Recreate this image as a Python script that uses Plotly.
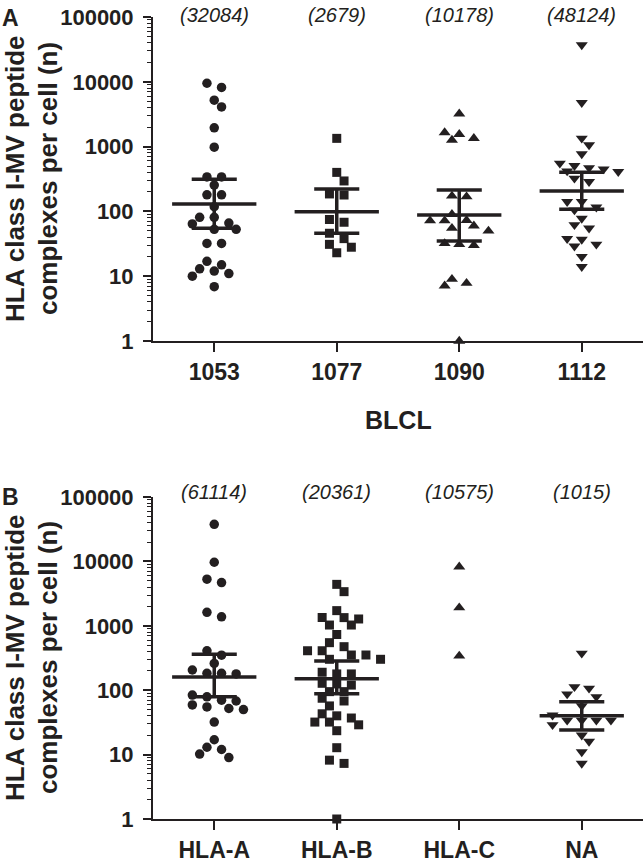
import numpy as np
import plotly.graph_objects as go

# ---------------- data ----------------
panelA_categories = ["1053", "1077", "1090", "1112"]
panelA_counts = ["(32084)", "(2679)", "(10178)", "(48124)"]
a_1053 = [9500, 8200, 5200, 4100, 1950, 980, 340, 340, 255, 180, 180, 118, 81, 81,
          66, 64, 53, 53, 32, 32, 17, 15, 13, 12, 11, 10, 6.9]
a_1077 = [1340, 400, 295, 186, 179, 75, 68, 46, 38, 31, 28, 23]
a_1090 = [3200, 1650, 1550, 1340, 1260, 173, 169, 90, 73, 72, 72, 60, 55, 50,
          32, 31, 30, 9.0, 7.8, 7.1, 1.0]
a_1112 = [37000, 4760, 1340, 1060, 770, 552, 507, 470, 450, 420, 410, 324, 287,
          141, 141, 116, 105, 78, 62, 55, 38, 37, 31, 29, 20, 14]
panelA_median = [130, 99, 88, 206]
panelA_low = [55, 46, 35, 108]
panelA_high = [313, 222, 214, 401]

panelB_categories = ["HLA-A", "HLA-B", "HLA-C", "NA"]
panelB_counts = ["(61114)", "(20361)", "(10575)", "(1015)"]
b_hlaa = [37700, 9700, 5300, 4700, 1620, 1380, 410, 350, 260, 206, 183, 183, 179,
          84, 79, 70, 68, 59, 55, 52, 50, 32, 17, 13, 12, 10.2, 9.0]
b_hlab = [4400, 3390, 1720, 1346, 1340, 1276, 1028, 1028, 733, 547, 474, 410, 410,
          352, 352, 302, 302, 190, 179, 179, 128, 125, 120, 95, 95, 75, 68, 57,
          43, 40, 37, 32, 32, 29, 23.5, 12.8, 8.2, 7.3, 1.0]
b_hlac = [8260, 1910, 340]
b_na = [374, 113, 107, 87, 79, 57, 41, 34, 34, 34, 34, 29, 20, 16, 11, 7.3]
panelB_median = [160, 150, None, 40]
panelB_low = [79, 88, None, 24]
panelB_high = [361, 285, None, 66]

y_tickvals = [1, 10, 100, 1000, 10000, 100000]
y_ticktext = ["1", "10", "100", "1000", "10000", "100000"]

# ---------------- layout geometry ----------------
W, H = 644, 863
L, R, T, B = 153, 1, 17, 44
PW, PH = W - L - R, H - T - B
domA = [(H - B - 341) / PH, 1.0]
domB = [0.0, (H - B - 497) / PH]
px_per_cat = PW / 4.0
INK = "#231f20"
FONT = "Arial, Liberation Sans, sans-serif"


def px_x(px):
    return (px - L) / PW


def py_y(py):
    return (H - B - py) / PH


def swarm(vals, px_per_dec, half=7.3, row_tol=6.0, mindist=9.0):
    """Prism-like column scatter: rows of near-equal values spread symmetrically."""
    ys = np.log10(np.array(vals, dtype=float)) * px_per_dec
    order = list(np.argsort(-ys))
    rows, cur = [], [order[0]]
    for i in order[1:]:
        if ys[cur[0]] - ys[i] <= row_tol:
            cur.append(i)
        else:
            rows.append(cur)
            cur = [i]
    rows.append(cur)
    placed = []
    offs = np.zeros(len(vals))
    for row in rows:
        n = len(row)
        base = [(j - (n - 1) / 2.0) * 2 * half for j in range(n)]
        pairs = sorted(zip(base, row), key=lambda t: abs(t[0]))
        for b, i in pairs:
            if abs(b) < 1e-9:
                cands = [0.0]
                for k in range(1, 12):
                    cands += [k * half, -k * half]
            else:
                sgn = 1.0 if b > 0 else -1.0
                cands = [b + sgn * k * half for k in range(12)]
            x = cands[-1]
            for c in cands:
                if all((c - px) ** 2 + (ys[i] - py) ** 2 >= mindist ** 2 for px, py in placed):
                    x = c
                    break
            offs[i] = x
            placed.append((x, ys[i]))
    return offs / px_per_cat


fig = go.Figure()

symbols = ["circle", "square", "triangle-up", "triangle-down"]
sizes = [9.5, 9, 10.5, 10.5]


def add_panel(groups, med, lo, hi, xa, ya, dom):
    px_dec = (dom[1] - dom[0]) * PH / 5.0
    for i, vals in enumerate(groups):
        offs = swarm(vals, px_dec)
        fig.add_trace(go.Scatter(
            x=i + offs, y=vals, mode="markers", xaxis=xa, yaxis=ya,
            marker=dict(symbol=symbols[i], size=sizes[i], color=INK, line=dict(width=0)),
            cliponaxis=False, showlegend=False, hoverinfo="y"))
    for i in range(len(groups)):
        if med[i] is None:
            continue
        xs = [i - 0.344, i + 0.344, None, i - 0.184, i + 0.184, None,
              i - 0.184, i + 0.184, None, i, i]
        ys = [med[i], med[i], None, lo[i], lo[i], None, hi[i], hi[i], None, lo[i], hi[i]]
        fig.add_trace(go.Scatter(x=xs, y=ys, mode="lines", xaxis=xa, yaxis=ya,
                                 line=dict(color=INK, width=3.5), showlegend=False,
                                 hoverinfo="skip", cliponaxis=False))


add_panel([a_1053, a_1077, a_1090, a_1112], panelA_median, panelA_low, panelA_high, "x", "y", domA)
add_panel([b_hlaa, b_hlab, b_hlac, b_na], panelB_median, panelB_low, panelB_high, "x2", "y2", domB)

minor_vals = [k * 10 ** d for d in range(5) for k in range(2, 10)]


def yax(dom, anchor):
    return dict(type="log", range=[0, 5], domain=dom, anchor=anchor,
                tickmode="array", tickvals=y_tickvals, ticktext=y_ticktext,
                ticks="outside", ticklen=8, tickwidth=2, tickcolor=INK,
                showline=True, linewidth=2, linecolor=INK, showgrid=False, zeroline=False,
                tickfont=dict(family=FONT, size=22, color=INK, weight="bold"),
                ticklabelstandoff=5,
                minor=dict(tickmode="array", tickvals=minor_vals, ticks="outside",
                           ticklen=4, tickwidth=1.3, tickcolor=INK, showgrid=False))


def xax(labels, anchor):
    return dict(range=[-0.5, 3.5], anchor=anchor, domain=[0, 1],
                tickmode="array", tickvals=[0, 1, 2, 3], ticktext=labels,
                ticks="outside", ticklen=9, tickwidth=2, tickcolor=INK,
                showline=True, linewidth=2, linecolor=INK, showgrid=False, zeroline=False,
                tickfont=dict(family=FONT, size=23, color=INK, weight="bold"))


annotations = []
for i, t in enumerate(panelA_counts):
    annotations.append(dict(x=i, xref="x", y=py_y(15), yref="paper", text=t, showarrow=False,
                            font=dict(family=FONT, size=20, color=INK, style="italic"),
                            xanchor="center", yanchor="middle"))
for i, t in enumerate(panelB_counts):
    annotations.append(dict(x=i, xref="x2", y=py_y(492), yref="paper", text=t, showarrow=False,
                            font=dict(family=FONT, size=20, color=INK, style="italic"),
                            xanchor="center", yanchor="middle"))

for cy in [179, 658]:
    annotations.append(dict(x=px_x(15), xref="paper", y=py_y(cy), yref="paper",
                            text="HLA class I-MV peptide", textangle=-90, showarrow=False,
                            font=dict(family=FONT, size=26, color=INK, weight="bold"),
                            xanchor="center", yanchor="middle"))
    annotations.append(dict(x=px_x(48), xref="paper", y=py_y(cy), yref="paper",
                            text="complexes per cell (n)", textangle=-90, showarrow=False,
                            font=dict(family=FONT, size=26, color=INK, weight="bold"),
                            xanchor="center", yanchor="middle"))

annotations.append(dict(x=px_x(10), xref="paper", y=py_y(18), yref="paper", text="A",
                        showarrow=False, font=dict(family=FONT, size=23, color=INK, weight="bold"),
                        xanchor="center", yanchor="middle"))
annotations.append(dict(x=px_x(10), xref="paper", y=py_y(497), yref="paper", text="B",
                        showarrow=False, font=dict(family=FONT, size=23, color=INK, weight="bold"),
                        xanchor="center", yanchor="middle"))
annotations.append(dict(x=px_x(398), xref="paper", y=py_y(420), yref="paper", text="BLCL",
                        showarrow=False, font=dict(family=FONT, size=25, color=INK, weight="bold"),
                        xanchor="center", yanchor="middle"))

fig.update_layout(
    width=W, height=H, margin=dict(l=L, r=R, t=T, b=B, autoexpand=False),
    paper_bgcolor="white", plot_bgcolor="white",
    xaxis=xax(panelA_categories, "y"), yaxis=yax(domA, "x"),
    xaxis2=xax(panelB_categories, "y2"), yaxis2=yax(domB, "x2"),
    annotations=annotations, showlegend=False,
)

fig.write_html("out.html", config={"displayModeBar": False},
               post_script="document.body.style.margin='0px';document.body.style.overflow='hidden';")
